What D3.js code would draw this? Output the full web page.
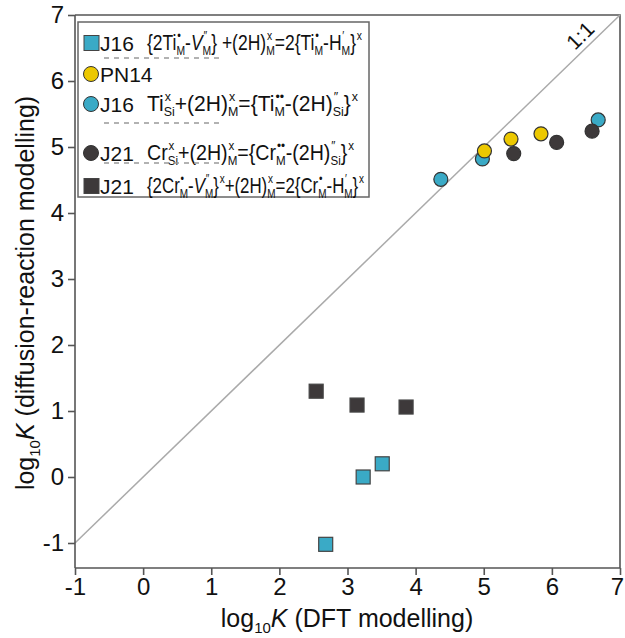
<!DOCTYPE html>
<html>
<head>
<meta charset="utf-8">
<script src="https://cdn.jsdelivr.net/npm/d3@7"></script>
<style>
  body { margin: 0; background: #fff; }
  svg text { font-family: "Liberation Sans", Arial, sans-serif; fill: #111; }
</style>
</head>
<body>
<svg id="chart" width="625" height="638"></svg>
<script>
// data (log10 K, DFT vs diffusion-reaction)
var j16Sq = [[2.68, -1.02], [3.23, 0.0], [3.51, 0.20]];
var j21Sq = [[2.54, 1.30], [3.14, 1.09], [3.86, 1.06]];
var pn14 = [[5.01, 4.94], [5.40, 5.12], [5.84, 5.20]];
var j16Ci = [[4.37, 4.51], [4.98, 4.82], [6.68, 5.41]];
var j21Ci = [[5.44, 4.90], [6.07, 5.07], [6.59, 5.24]];
var ticks = [-1, 0, 1, 2, 3, 4, 5, 6, 7];

var cyan = "#3aaac6", yellow = "#ecc800", dark = "#3d393a";

var svg = d3.select("#chart");
var x = d3.scaleLinear().domain([-1, 7]).range([75, 620]);
var y = d3.scaleLinear().domain([-1, 7]).range([543, 15]);
var axisY = 568;

// frame
svg.append("path").attr("d", "M75,15H620V" + axisY)
  .attr("fill", "none").attr("stroke", "#555").attr("stroke-width", 1.6);

// 1:1 line
svg.append("line")
  .attr("x1", x(-1)).attr("y1", y(-1))
  .attr("x2", x(7)).attr("y2", y(7))
  .attr("stroke", "#aaa").attr("stroke-width", 1.5);
svg.append("text")
  .attr("transform", "translate(" + (x(6.55) - 4) + "," + (y(6.55) - 4) + ") rotate(-45)")
  .attr("text-anchor", "middle")
  .style("font-size", "21px")
  .text("1:1");

// axes
var fmt = function(d) { return String(d); };
var gx = svg.append("g").attr("transform", "translate(0," + axisY + ")")
  .call(d3.axisBottom(x).tickValues(ticks).tickFormat(fmt).tickSize(7).tickSizeOuter(0).tickPadding(3));
var gy = svg.append("g").attr("transform", "translate(75,0)")
  .call(d3.axisLeft(y).tickValues(ticks).tickFormat(fmt).tickSize(7).tickSizeOuter(0).tickPadding(4));
[gx, gy].forEach(function(g) {
  g.selectAll("line, path").attr("stroke", "#555").attr("stroke-width", 1.6);
  g.selectAll("text").style("font-size", "24px").style("font-family", "Liberation Sans, Arial, sans-serif").attr("fill", "#111");
});
gx.selectAll(".tick text").filter(function(d) { return d === 7; }).attr("dx", -3);
gy.select("path").attr("d", "M0," + y(7) + "V" + axisY);
gx.select("path").attr("d", "M75,0H620");

// axis titles
var xt = svg.append("text").attr("x", 347).attr("y", 627).attr("text-anchor", "middle").style("font-size", "25px");
xt.append("tspan").text("log");
xt.append("tspan").text("10").style("font-size", "15px").attr("dy", 6);
xt.append("tspan").text("K").style("font-style", "italic").attr("dy", -6);
xt.append("tspan").text(" (DFT modelling)");
var yt = svg.append("text").attr("transform", "translate(34,293) rotate(-90)").attr("text-anchor", "middle").style("font-size", "25px");
yt.append("tspan").text("log");
yt.append("tspan").text("10").style("font-size", "15px").attr("dy", 6);
yt.append("tspan").text("K").style("font-style", "italic").attr("dy", -6);
yt.append("tspan").text(" (diffusion-reaction modelling)");

// points
function squares(data, fill) {
  svg.append("g").selectAll("rect").data(data).enter().append("rect")
    .attr("x", function(d) { return x(d[0]) - 7; })
    .attr("y", function(d) { return y(d[1]) - 7; })
    .attr("width", 14).attr("height", 14)
    .attr("fill", fill).attr("stroke", "#444").attr("stroke-width", 1.2);
}
function circles(data, fill) {
  svg.append("g").selectAll("circle").data(data).enter().append("circle")
    .attr("cx", function(d) { return x(d[0]); })
    .attr("cy", function(d) { return y(d[1]); })
    .attr("r", 7)
    .attr("fill", fill).attr("stroke", "#333").attr("stroke-width", 1.2);
}
squares(j16Sq, cyan);
squares(j21Sq, dark);
circles(j16Ci, cyan);
circles(pn14, yellow);
circles(j21Ci, dark);

// legend
var leg = svg.append("g");
leg.append("rect").attr("x", 78).attr("y", 22).attr("width", 291).attr("height", 175)
  .attr("fill", "#fff").attr("stroke", "#666").attr("stroke-width", 1.5);

// writes a formula: strings are plain text, [sub, sup] pairs are stacked indices;
// squeezed sideways to end at xEnd like the original's narrow type
function formula(px, py, xEnd, parts) {
  var g = leg.append("g");
  var cx = px, fs = 22, small = 13;
  parts.forEach(function(p) {
    if (typeof p === "string") {
      var t = g.append("text").attr("x", cx).attr("y", py).style("font-size", fs + "px");
      if (p.charAt(0) === "~") { t.style("font-style", "italic"); p = p.slice(1); }
      t.text(p);
      cx += t.node().getComputedTextLength();
    } else {
      var w = 0;
      if (p[0]) {
        var s = g.append("text").attr("x", cx).attr("y", py + 5).style("font-size", small + "px").text(p[0]);
        w = s.node().getComputedTextLength();
      }
      if (p[1]) {
        var u = g.append("text").attr("x", cx + 1).attr("y", py - 10).style("font-size", small + "px").text(p[1]);
        w = Math.max(w, u.node().getComputedTextLength() + 1);
      }
      cx += w;
    }
  });
  var k = (xEnd - px) / (cx - px);
  g.attr("transform", "translate(" + px + ",0) scale(" + k + ",1) translate(" + (-px) + ",0)");
}

var rows = [43, 74, 104, 153, 186];
leg.append("rect").attr("x", 84).attr("y", rows[0] - 7.5).attr("width", 15).attr("height", 15).attr("fill", cyan).attr("stroke", "#444");
leg.append("circle").attr("cx", 91).attr("cy", rows[1]).attr("r", 7.5).attr("fill", yellow).attr("stroke", "#333");
leg.append("circle").attr("cx", 91).attr("cy", rows[2]).attr("r", 7.5).attr("fill", cyan).attr("stroke", "#333");
leg.append("circle").attr("cx", 91).attr("cy", rows[3]).attr("r", 7.5).attr("fill", dark).attr("stroke", "#333");
leg.append("rect").attr("x", 84).attr("y", rows[4] - 7.5).attr("width", 15).attr("height", 15).attr("fill", dark).attr("stroke", "#444");

var refs = ["J16", "PN14", "J16", "J21", "J21"];
refs.forEach(function(r, i) {
  leg.append("text").attr("x", 100).attr("y", rows[i] + 8).style("font-size", "21px").text(r);
});

formula(147, rows[0] + 7, 362, ["{2Ti", ["M", "•"], "-", "~V", ["M", "″"], "} +(2H)", ["M", "x"], "=2{Ti", ["M", "•"], "-H", ["M", "′"], "}", [null, "x"]]);
formula(147, rows[2] + 7, 358, ["Ti", ["Si", "x"], "+(2H)", ["M", "x"], "={Ti", ["M", "••"], "-(2H)", ["Si", "″"], "}", [null, "x"]]);
formula(147, rows[3] + 7, 354, ["Cr", ["Si", "x"], "+(2H)", ["M", "x"], "={Cr", ["M", "••"], "-(2H)", ["Si", "″"], "}", [null, "x"]]);
formula(147, rows[4] + 7, 364, ["{2Cr", ["M", "•"], "-", "~V", ["M", "″"], "}", [null, "x"], "+(2H)", ["M", "x"], "=2{Cr", ["M", "•"], "-H", ["M", "′"], "}", [null, "x"]]);

[58, 123, 163].forEach(function(yy) {
  leg.append("line").attr("x1", 104).attr("x2", 222).attr("y1", yy).attr("y2", yy)
    .attr("stroke", "#999").attr("stroke-width", 1.3).attr("stroke-dasharray", "5,5");
});
</script>
</body>
</html>
